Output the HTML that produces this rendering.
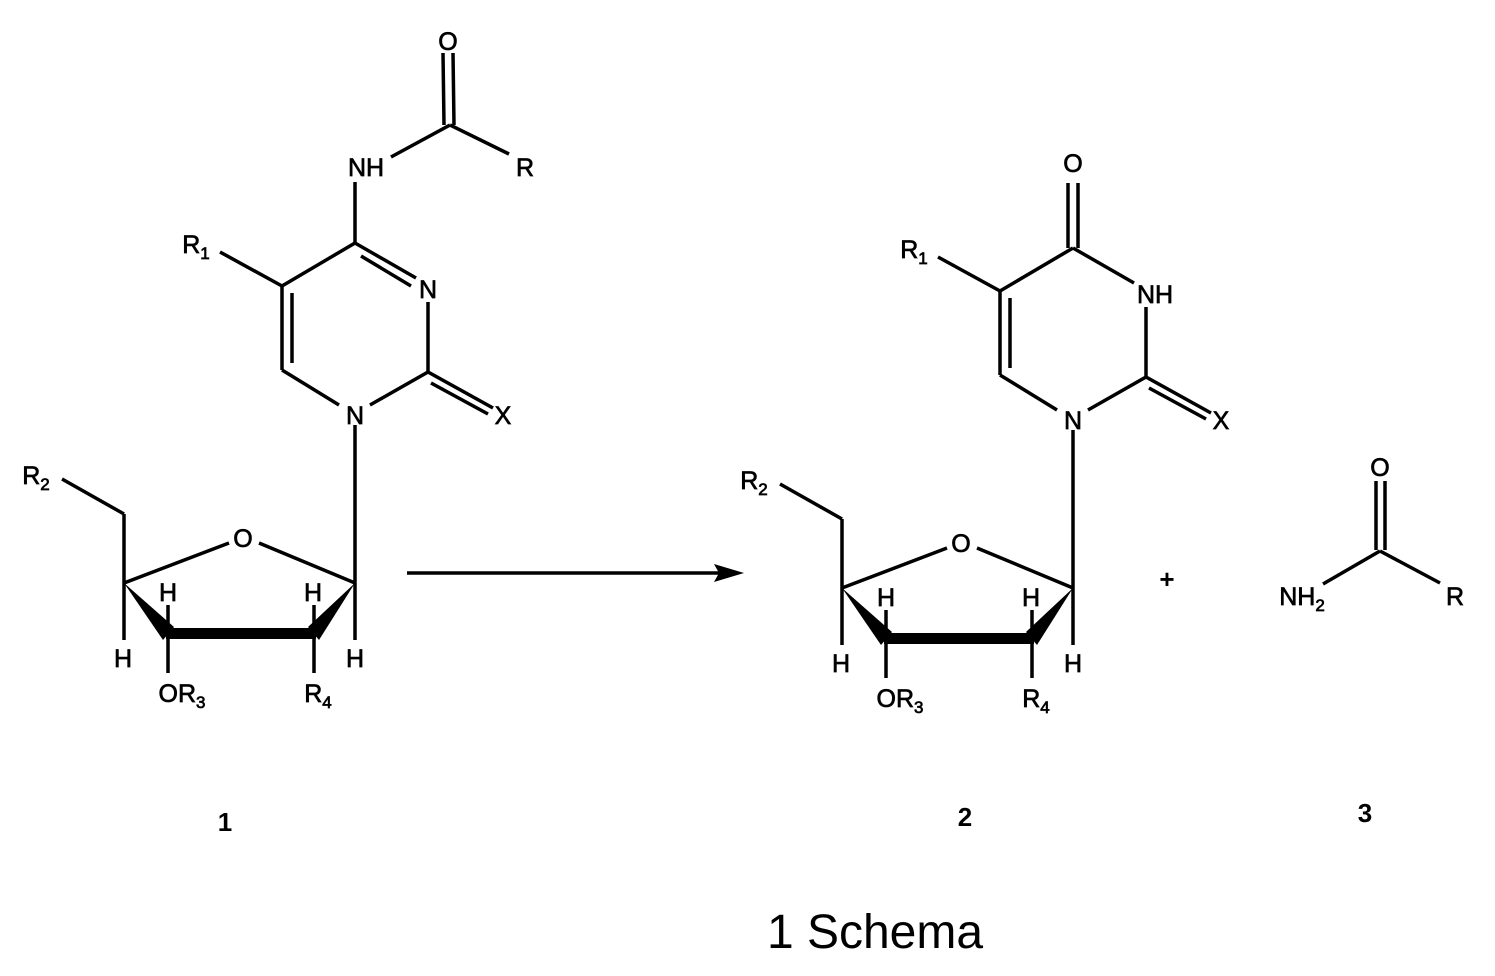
<!DOCTYPE html>
<html><head><meta charset="utf-8"><style>html,body{margin:0;padding:0;background:#fff}svg{display:block}</style></head>
<body>
<svg width="1495" height="976" viewBox="0 0 1495 976" xmlns="http://www.w3.org/2000/svg" font-family="Liberation Sans, Arial, sans-serif">
<defs>
<g id="sugar" stroke="#000" stroke-width="3.5" fill="none">
  <line x1="62" y1="479" x2="124" y2="514"/>
  <line x1="124" y1="514" x2="124" y2="640"/>
  <line x1="124" y1="583" x2="229" y2="543"/>
  <line x1="259" y1="543" x2="355" y2="583"/>
  <line x1="355" y1="425" x2="355" y2="640"/>
  <polygon points="124,583 163,640 174,627" fill="#000" stroke="none"/>
  <rect x="166" y="628" width="150" height="11" fill="#000" stroke="none"/>
  <polygon points="355,583 308,627 319,640" fill="#000" stroke="none"/>
  <line x1="168" y1="605" x2="168" y2="630"/>
  <line x1="314" y1="605" x2="314" y2="630"/>
  <line x1="168" y1="636" x2="168" y2="673"/>
  <line x1="314" y1="636" x2="314" y2="673"/>
</g>
<g id="sugarText" font-size="25" fill="#000" stroke="#000" stroke-width="0.7" text-anchor="middle">
  <text x="36" y="484">R<tspan font-size="17" dy="6">2</tspan></text>
  <text x="243" y="547">O</text>
  <text x="168" y="601">H</text>
  <text x="313" y="601">H</text>
  <text x="123" y="667">H</text>
  <text x="355" y="667">H</text>
  <text x="182" y="702">OR<tspan font-size="17" dy="6">3</tspan></text>
  <text x="318" y="702">R<tspan font-size="17" dy="6">4</tspan></text>
</g>
</defs>

<use href="#sugar"/>
<use href="#sugarText"/>
<g stroke="#000" stroke-width="3.5" fill="none">
  <line x1="443" y1="53" x2="444" y2="125"/>
  <line x1="453" y1="53" x2="454" y2="125"/>
  <line x1="391" y1="157" x2="450" y2="125"/>
  <line x1="450" y1="125" x2="509" y2="154"/>
  <line x1="355" y1="182" x2="355" y2="243"/>
  <line x1="355" y1="243" x2="282" y2="286"/>
  <line x1="355" y1="243" x2="416" y2="278"/>
  <line x1="361" y1="256" x2="411" y2="286"/>
  <line x1="428" y1="302" x2="428" y2="372"/>
  <line x1="428" y1="372" x2="493" y2="408"/>
  <line x1="431" y1="383" x2="488" y2="414"/>
  <line x1="428" y1="372" x2="370" y2="405"/>
  <line x1="282" y1="286" x2="282" y2="370"/>
  <line x1="292" y1="293" x2="292" y2="363"/>
  <line x1="282" y1="370" x2="339" y2="405"/>
  <line x1="220" y1="252" x2="282" y2="286"/>
</g>
<g font-size="25" fill="#000" stroke="#000" stroke-width="0.7" text-anchor="middle">
  <text x="448" y="50">O</text>
  <text x="525" y="176">R</text>
  <text x="366" y="176">NH</text>
  <text x="428" y="298">N</text>
  <text x="503" y="424">X</text>
  <text x="355" y="424">N</text>
  <text x="196" y="253">R<tspan font-size="17" dy="6">1</tspan></text>
</g>

<line x1="407" y1="573" x2="720" y2="573" stroke="#000" stroke-width="3.5"/>
<polygon points="744,573 714,564 719,573 714,582" fill="#000"/>

<g transform="translate(718,5)">
  <use href="#sugar"/>
  <use href="#sugarText"/>
  <g stroke="#000" stroke-width="3.5" fill="none">
    <line x1="350" y1="178" x2="350" y2="243"/>
    <line x1="360" y1="178" x2="360" y2="243"/>
    <line x1="355" y1="243" x2="282" y2="286"/>
    <line x1="355" y1="243" x2="416" y2="278"/>
    <line x1="428" y1="302" x2="428" y2="372"/>
    <line x1="428" y1="372" x2="493" y2="408"/>
    <line x1="431" y1="383" x2="488" y2="414"/>
    <line x1="428" y1="372" x2="370" y2="405"/>
    <line x1="282" y1="286" x2="282" y2="370"/>
    <line x1="292" y1="293" x2="292" y2="363"/>
    <line x1="282" y1="370" x2="339" y2="405"/>
    <line x1="220" y1="252" x2="282" y2="286"/>
  </g>
  <g font-size="25" fill="#000" stroke="#000" stroke-width="0.7" text-anchor="middle">
    <text x="355" y="167">O</text>
    <text x="437" y="298">NH</text>
    <text x="503" y="424">X</text>
    <text x="355" y="424">N</text>
    <text x="196" y="253">R<tspan font-size="17" dy="6">1</tspan></text>
  </g>
</g>

<text x="1167" y="588" font-size="26" font-weight="bold" text-anchor="middle" fill="#000">+</text>

<g stroke="#000" stroke-width="3.5" fill="none">
  <line x1="1376" y1="481" x2="1376" y2="550"/>
  <line x1="1385" y1="481" x2="1385" y2="550"/>
  <line x1="1323" y1="584" x2="1380" y2="551"/>
  <line x1="1380" y1="551" x2="1440" y2="583"/>
</g>
<g font-size="25" fill="#000" stroke="#000" stroke-width="0.7" text-anchor="middle">
  <text x="1380" y="476">O</text>
  <text x="1302" y="605">NH<tspan font-size="17" dy="6">2</tspan></text>
  <text x="1455" y="605">R</text>
</g>

<g font-size="26" font-weight="bold" fill="#000" text-anchor="middle">
  <text x="225" y="831">1</text>
  <text x="965" y="826">2</text>
  <text x="1365" y="822">3</text>
</g>
<text x="875" y="948" font-size="48" fill="#000" text-anchor="middle">1 Schema</text>
</svg>
</body></html>
